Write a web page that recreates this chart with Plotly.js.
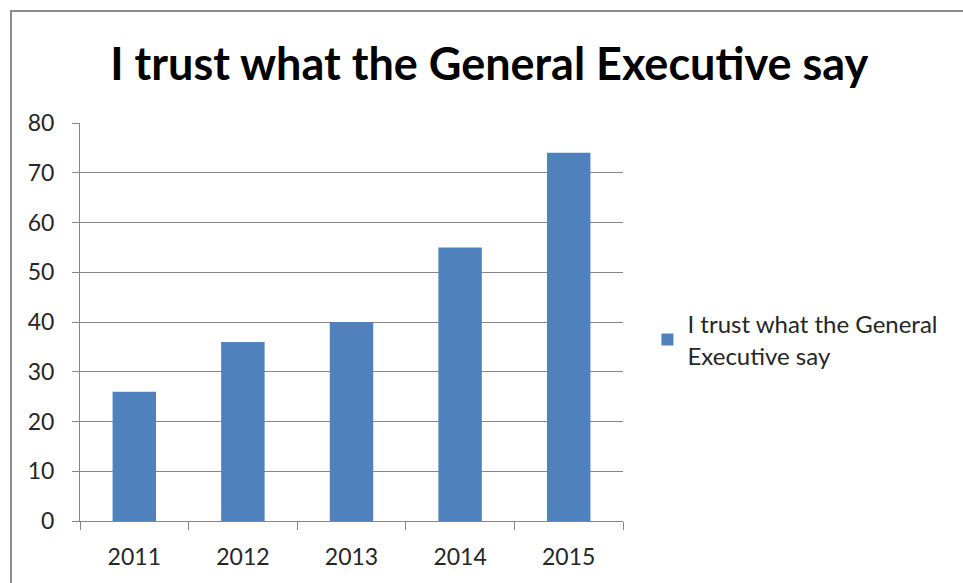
<!DOCTYPE html>
<html>
<head>
<meta charset="utf-8">
<script src="https://cdn.plot.ly/plotly-3.0.1.min.js"></script>
<style>
  html, body { margin: 0; padding: 0; background: #fff; overflow: hidden; }
  #wrap { position: relative; width: 963px; height: 583px; }
  #frame { position: absolute; left: 10px; top: 10px; width: 1000px; height: 1000px;
           border-top: 2px solid #8c8c8c; border-left: 2px solid #8c8c8c; box-sizing: border-box; pointer-events: none; z-index: 2; }
  #chart { position: absolute; left: 0; top: 0; width: 963px; height: 583px; }
</style>
</head>
<body>
<div id="wrap">
  <div id="chart"></div>
  <div id="frame"></div>
</div>
<script>
const categories = ["2011", "2012", "2013", "2014", "2015"];
const values = [26, 36, 40, 55, 74];
const seriesName = "I trust what the General<br>Executive say";
const chartTitle = "I trust what the General Executive say";

const font = "Lato, 'Open Sans', sans-serif";

Plotly.newPlot("chart", [{
  type: "bar",
  x: categories,
  y: values,
  name: seriesName,
  marker: { color: "#4f81bd" },
  showlegend: true
}], {
  width: 963, height: 583,
  margin: { l: 80, r: 340, t: 123, b: 62 },
  paper_bgcolor: "rgba(0,0,0,0)",
  plot_bgcolor: "#fff",
  bargap: 0.6,
  title: { text: chartTitle, x: 0.508, xanchor: "center", y: 0.89, yanchor: "middle",
           font: { family: font, size: 45, color: "#000", weight: "bold" } },
  font: { family: font, size: 23, color: "#262626" },
  xaxis: {
    type: "category",
    showline: true, linecolor: "#868686", linewidth: 1,
    ticks: "outside", tickson: "boundaries", ticklen: 8, tickcolor: "#868686",
    showgrid: false, ticklabelstandoff: 15,
    tickfont: { family: font, size: 23, color: "#262626" }
  },
  yaxis: {
    range: [0, 80], dtick: 10,
    showline: true, linecolor: "#868686", linewidth: 1,
    ticks: "outside", ticklen: 7, tickcolor: "#868686",
    showgrid: true, gridcolor: "#868686", gridwidth: 1,
    zeroline: false, ticklabelstandoff: 13,
    tickfont: { family: font, size: 23, color: "#262626" }
  },
  legend: {
    x: 1.045, xanchor: "left", y: 0.455, yanchor: "middle",
    font: { family: font, size: 24, color: "#262626" },
    itemwidth: 30, tracegroupgap: 0
  }
}, { displayModeBar: false, staticPlot: true });
</script>
</body>
</html>
